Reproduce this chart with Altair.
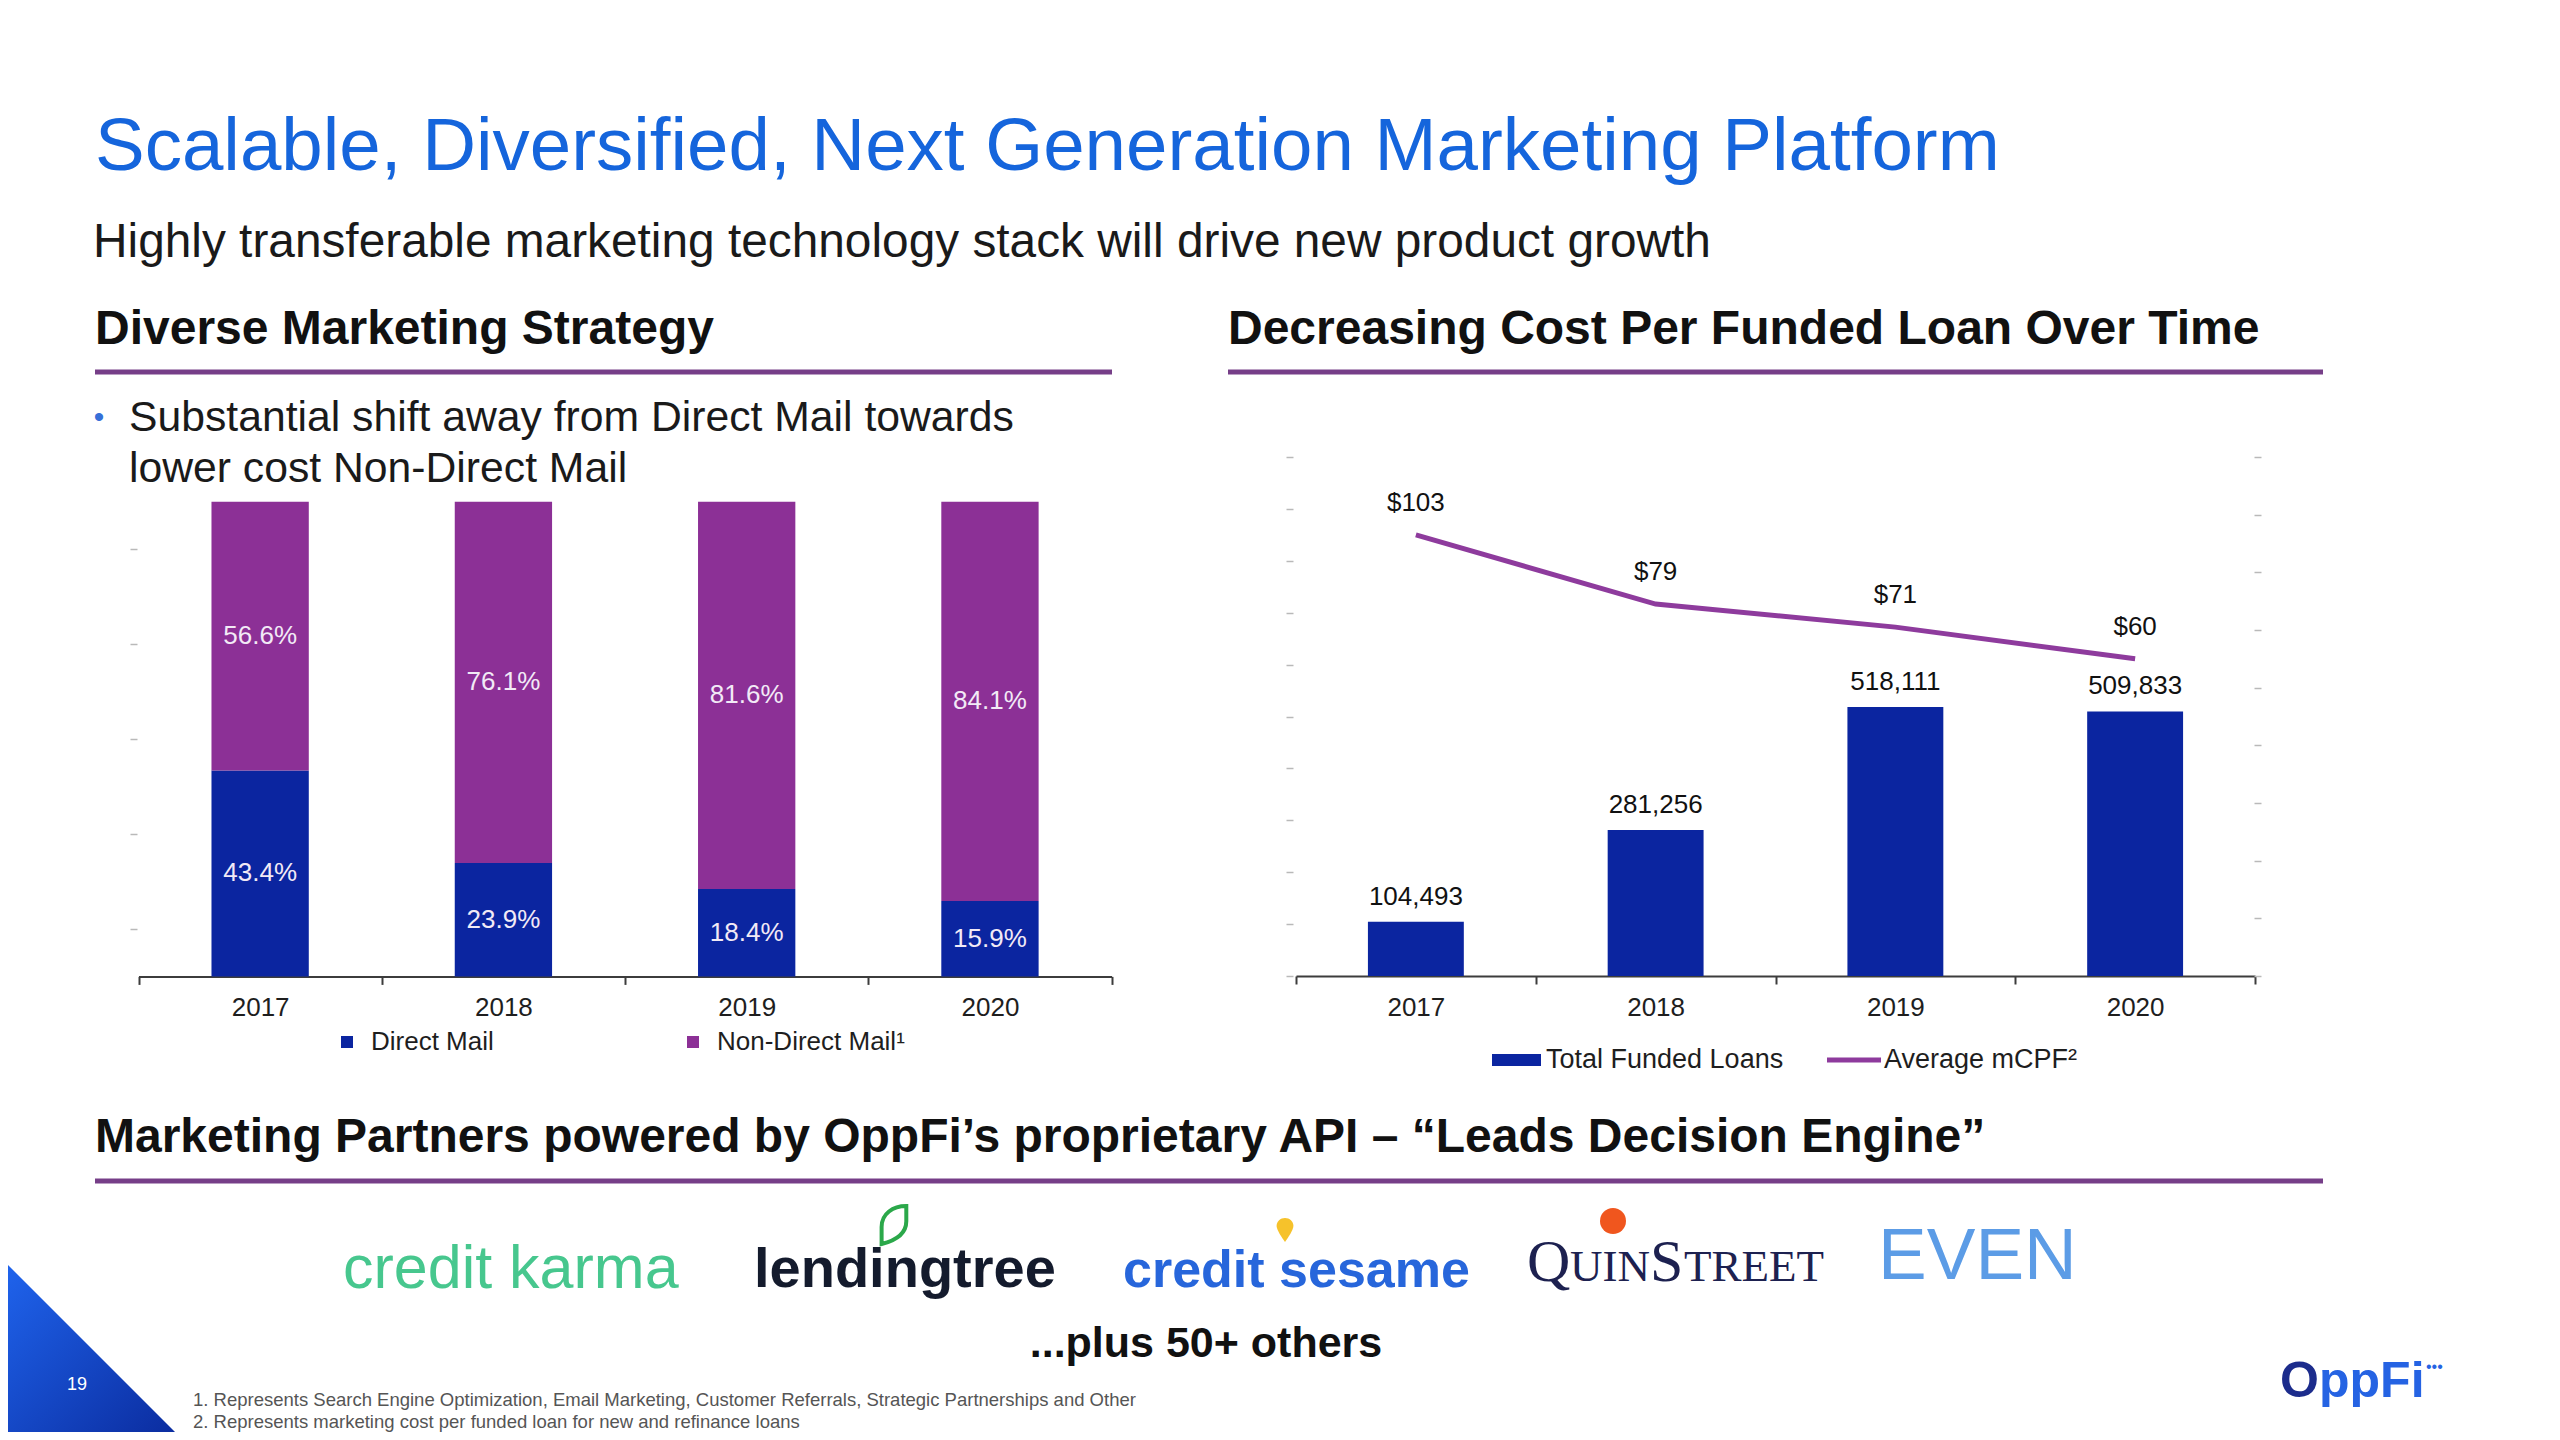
import altair as alt
import pandas as pd

# ---------------- data ----------------
years = ["2017", "2018", "2019", "2020"]
direct_mail_share = [43.4, 23.9, 18.4, 15.9]
non_direct_mail_share = [56.6, 76.1, 81.6, 84.1]
channels = ["Direct Mail", "Non-Direct Mail¹"]

total_funded_loans = [104493, 281256, 518111, 509833]
average_mcpf = [103, 79, 71, 60]
right_series = ["Total Funded Loans", "Average mCPF²"]

title_text = "Scalable, Diversified, Next Generation Marketing Platform"
subtitle_text = "Highly transferable marketing technology stack will drive new product growth"
left_header = "Diverse Marketing Strategy"
right_header = "Decreasing Cost Per Funded Loan Over Time"
bullet_lines = ["Substantial shift away from Direct Mail towards", "lower cost Non-Direct Mail"]
bottom_header = "Marketing Partners powered by OppFi’s proprietary API – “Leads Decision Engine”"
partner_names = ["credit karma", "lendingtree", "credit sesame", "QUINSTREET", "EVEN"]
plus_text = "...plus 50+ others"
footnotes = [
    "1. Represents Search Engine Optimization, Email Marketing, Customer Referrals, Strategic Partnerships and Other",
    "2. Represents marketing cost per funded loan for new and refinance loans",
]
page_number = "19"
brand = ["O", "ppFi"]

# ---------------- style ----------------
W, H = 2544, 1424
M = 8
FONT = "Liberation Sans"
BLUE = "#0B25A0"
PURPLE = "#8C3096"
LINE_PURPLE = "#8E3B9D"
UL_PURPLE = "#763E88"
TITLE_BLUE = "#1565DC"
INK = "#1a1a1a"


def px(v):
    return v - M


def txt(t, x, y, size, color=INK, weight="normal", align="left", baseline="alphabetic", font=FONT):
    return alt.Chart(pd.DataFrame({"t": [t]})).mark_text(
        align=align, baseline=baseline, fontSize=size, fontWeight=weight, color=color, font=font
    ).encode(x=alt.value(px(x)), y=alt.value(px(y)), text="t:N")


def hline(x1, x2, y, color, width):
    return alt.Chart(pd.DataFrame({"k": [0]})).mark_rule(color=color, strokeWidth=width).encode(
        x=alt.value(px(x1)), x2=alt.value(px(x2)), y=alt.value(px(y))
    )


def blob(shape, x, y, size, fill=None, stroke=None, sw=0):
    kw = dict(shape=shape, size=size, opacity=1, strokeWidth=sw)
    if fill is not None:
        kw["filled"] = True
        kw["fill"] = fill
    else:
        kw["filled"] = False
    if stroke is not None:
        kw["stroke"] = stroke
    return alt.Chart(pd.DataFrame({"k": [0]})).mark_point(**kw).encode(
        x=alt.value(px(x)), y=alt.value(px(y))
    )


axis_common = dict(
    title=None, labelAngle=0, domainColor="#3c3c3c", domainWidth=2, tickColor="#3c3c3c",
    tickWidth=2, tickSize=8, tickBand="extent", labelFontSize=26, labelColor="#1e1e1e",
    labelPadding=10, grid=False, labelFont=FONT,
)
ghost_ticks = dict(title=None, labels=False, domain=False, grid=False, tickColor="#b9b9b9",
                   tickWidth=1.5, tickSize=7)
BAR_W = alt.RelativeBandSize(0.4)

# ---------------- left: marketing mix ----------------
mix_rows = []
for y, dm, nd in zip(years, direct_mail_share, non_direct_mail_share):
    mix_rows.append({"year": y, "channel": channels[0], "share": dm, "rank": 0})
    mix_rows.append({"year": y, "channel": channels[1], "share": nd, "rank": 1})
mix_df = pd.DataFrame(mix_rows)

left_x = alt.X(
    "year:N", sort=years,
    scale=alt.Scale(domain=years, range=[px(138.5), px(1111.6)], paddingInner=0, paddingOuter=0),
    axis=alt.Axis(orient="bottom", offset=px(976.4) - H, **axis_common),
)
left_scale_y = alt.Scale(domain=[0, 100], range=[px(976.4), px(501.8)], nice=False, zero=False)
left_axis_y = alt.Axis(orient="left", offset=-px(137), values=[-10, 10, 30, 50, 70, 90], **ghost_ticks)

left_base = alt.Chart(mix_df).transform_stack(
    as_=["s0", "s1"], stack="share", groupby=["year"], sort=[alt.SortField("rank", order="ascending")]
).transform_calculate(mid="(datum.s0 + datum.s1) / 2", pct="format(datum.share, '.1f') + '%'")

left_bars = left_base.mark_bar(width=BAR_W).encode(
    x=left_x,
    y=alt.Y("s0:Q", scale=left_scale_y, axis=left_axis_y),
    y2="s1:Q",
    color=alt.Color(
        "channel:N",
        scale=alt.Scale(domain=channels, range=[BLUE, PURPLE]),
        legend=alt.Legend(
            orient="none", legendX=px(334), legendY=px(1042) - 13, direction="horizontal",
            title=None, symbolType="square", symbolSize=144, symbolStrokeWidth=0,
            labelFontSize=26, labelColor="#1e1e1e", labelOffset=11, columnPadding=186,
            padding=0, offset=0, labelFont=FONT, labelLimit=400,
        ),
    ),
)
left_labels = left_base.mark_text(fontSize=26, color="#F2EAF6", baseline="middle", align="center").encode(
    x=left_x,
    y=alt.Y("mid:Q", scale=left_scale_y, axis=left_axis_y),
    text="pct:N",
)
left_chart = alt.layer(left_bars, left_labels)

# ---------------- right: funded loans / mCPF ----------------
fund_df = pd.DataFrame({"year": years, "loans": total_funded_loans, "mcpf": average_mcpf})

right_x = alt.X(
    "year:N", sort=years,
    scale=alt.Scale(domain=years, range=[px(1296), px(2255)], paddingInner=0, paddingOuter=0),
    axis=alt.Axis(orient="bottom", offset=px(976) - H, **axis_common),
)
loans_y = alt.Y(
    "loans:Q",
    scale=alt.Scale(domain=[0, 1000000], range=[px(976), px(457)], nice=False),
    axis=alt.Axis(orient="left", offset=-px(1293), values=list(range(0, 1000001, 100000)), **ghost_ticks),
)
mcpf_y = alt.Y(
    "mcpf:Q",
    scale=alt.Scale(domain=[-50, 130], range=[px(976), px(457)], nice=False, zero=False),
    axis=alt.Axis(orient="right", offset=px(2254) - W, values=list(range(-50, 131, 20)), **ghost_ticks),
)
fund_base = alt.Chart(fund_df)
bars_r = fund_base.mark_bar(color=BLUE, width=BAR_W).encode(x=right_x, y=loans_y)
bar_lab = fund_base.mark_text(fontSize=26, color="#111111", dy=-25, baseline="middle").encode(
    x=right_x, y=loans_y, text=alt.Text("loans:Q", format=",")
)
line_r = fund_base.mark_line(color=LINE_PURPLE, strokeWidth=5).encode(x=right_x, y=mcpf_y)
line_lab = fund_base.mark_text(fontSize=26, color="#111111", dy=-32, baseline="middle").encode(
    x=right_x, y=mcpf_y, text=alt.Text("mcpf:Q", format="$.0f")
)
right_chart = alt.layer(alt.layer(bars_r, bar_lab), alt.layer(line_r, line_lab)).resolve_scale(y="independent")

right_legend = [
    hline(1492, 1541, 1060, BLUE, 12),
    txt(right_series[0], 1546, 1060, 27, color="#1e1e1e", baseline="middle"),
    hline(1827, 1881, 1060, LINE_PURPLE, 5),
    txt(right_series[1], 1884, 1060, 27, color="#1e1e1e", baseline="middle"),
]

# ---------------- decorations & text ----------------
corner = blob(
    "M -1 -1 L -1 1 L 1 1 Z", 91.5, 1348.5, 183 * 183,
    fill=alt.Gradient(gradient="linear", x1=0, y1=0, x2=1, y2=1,
                      stops=[alt.GradientStop(color="#2066F0", offset=0),
                             alt.GradientStop(color="#0A2A9C", offset=1)]),
)

texts = [
    txt(title_text, 95, 170, 74.5, color=TITLE_BLUE),
    txt(subtitle_text, 93, 257, 47.8),
    txt(left_header, 95, 344, 48, weight="bold", color="#111111"),
    txt(right_header, 1228, 344, 48, weight="bold", color="#111111"),
    hline(95, 1112, 372, UL_PURPLE, 5),
    hline(1228, 2323, 372, UL_PURPLE, 5),
    txt("•", 99, 418, 30, color="#3670D8", align="center", baseline="middle"),
    txt(bullet_lines[0], 129, 431, 42.7),
    txt(bullet_lines[1], 129, 482, 42.7),
    txt(bottom_header, 95, 1152, 48, weight="bold", color="#111111"),
    hline(95, 2323, 1181, UL_PURPLE, 5),
    # partner logos (as text)
    txt(partner_names[0], 343, 1288, 61, color="#47C78E"),
    txt(partner_names[1], 754, 1287, 56, weight="bold", color="#141B2D"),
    blob("M -0.6 1 L -0.6 0.1 C -0.6 -0.6 0 -1 0.7 -1 L 0.7 -0.2 C 0.7 0.4 0.2 0.8 -0.6 1 Z",
         893, 1225, 38 * 38, stroke="#2BA84A", sw=4),
    txt(partner_names[2], 1123, 1287, 52, weight="bold", color="#2766DB"),
    blob("M 0 1 C -0.5 0.3 -0.7 -0.1 -0.7 -0.35 A 0.7 0.65 0 1 1 0.7 -0.35 C 0.7 -0.1 0.5 0.3 0 1 Z",
         1285, 1230, 24 * 24, fill="#F6C22B"),
    txt(partner_names[3][0], 1527, 1281, 60, color="#1D2150", font="Liberation Serif"),
    txt(partner_names[3][1:4], 1570, 1281, 45, color="#1D2150", font="Liberation Serif"),
    txt(partner_names[3][4], 1650, 1281, 60, color="#1D2150", font="Liberation Serif"),
    txt(partner_names[3][5:], 1684, 1281, 45, color="#1D2150", font="Liberation Serif"),
    blob("circle", 1613, 1221, 26 * 26, fill="#F0561E"),
    txt(partner_names[4], 1878, 1279, 73, color="#5C9CE6"),
    txt(plus_text, 1206, 1357, 43, weight="bold", align="center", color="#111111"),
    txt(footnotes[0], 193, 1406, 18.5, color="#555555"),
    txt(footnotes[1], 193, 1428, 18.5, color="#555555"),
    txt(page_number, 77, 1385, 18, color="#FFFFFF", align="center", baseline="middle"),
    txt(brand[0], 2280, 1397, 50, weight="bold", color="#1C2C8C"),
    txt(brand[1], 2319, 1397, 50, weight="bold", color="#2563E3"),
    txt("•••", 2426, 1372, 16, color="#2563E3"),
]

chart = alt.layer(corner, *texts, left_chart, right_chart, *right_legend).resolve_scale(
    x="independent", y="independent"
).properties(
    width=W, height=H, autosize=alt.AutoSizeParams(type="none"), padding=0
).configure(font=FONT).configure_view(strokeWidth=0)

chart.save("out.html", embed_options={"renderer": "svg", "actions": False})
